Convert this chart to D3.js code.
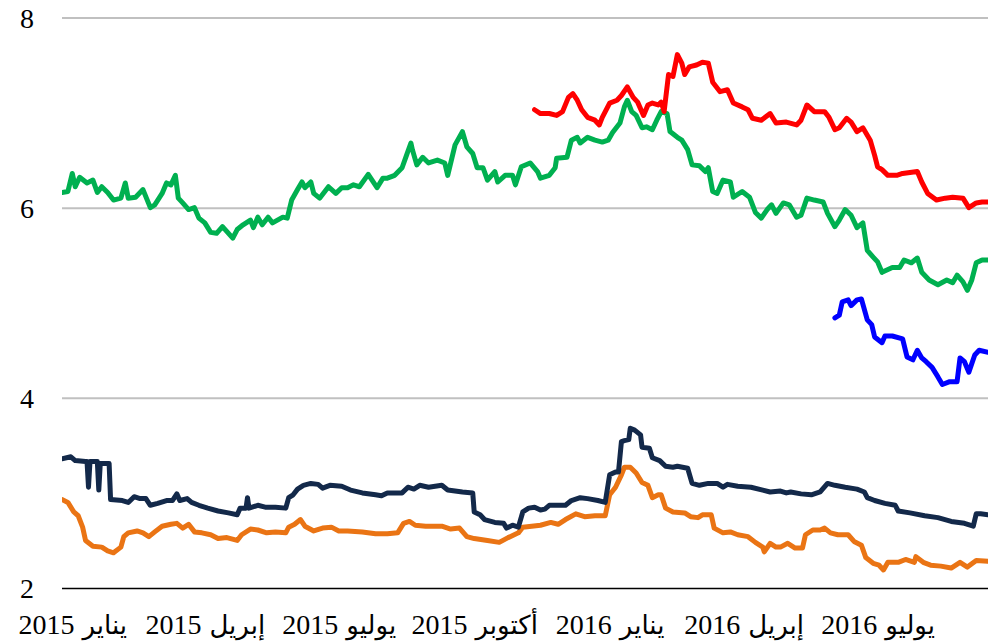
<!DOCTYPE html>
<html>
<head>
<meta charset="utf-8">
<script src="https://cdn.jsdelivr.net/npm/d3@7"></script>
<style>
  html, body { margin: 0; padding: 0; background: #ffffff; }
  svg { display: block; }
</style>
</head>
<body>
<svg id="chart" width="988" height="644"></svg>
<script>
// ---- Data ----
const yTicks = [2, 4, 6, 8];
const xTickDates = ["2015-01-01", "2015-04-01", "2015-07-01", "2015-10-01", "2016-01-01", "2016-04-01", "2016-07-01"];
const xTickMonths = ["يناير", "إبريل", "يوليو", "أكتوبر", "يناير", "إبريل", "يوليو"];
const xTickYears = ["2015", "2015", "2015", "2015", "2016", "2016", "2016"];

const greenSeries = [["2014-12-25",6.16],["2014-12-29",6.17],["2015-01-01",6.36],["2015-01-03",6.22],["2015-01-06",6.32],["2015-01-11",6.26],["2015-01-15",6.29],["2015-01-18",6.16],["2015-01-21",6.22],["2015-01-25",6.16],["2015-01-29",6.08],["2015-02-03",6.10],["2015-02-06",6.26],["2015-02-08",6.10],["2015-02-13",6.11],["2015-02-18",6.19],["2015-02-23",6.00],["2015-02-26",6.03],["2015-03-03",6.15],["2015-03-06",6.26],["2015-03-09",6.24],["2015-03-12",6.34],["2015-03-14",6.10],["2015-03-17",6.05],["2015-03-21",5.98],["2015-03-25",6.00],["2015-03-28",5.89],["2015-04-01",5.84],["2015-04-05",5.74],["2015-04-09",5.73],["2015-04-13",5.80],["2015-04-20",5.68],["2015-04-23",5.77],["2015-04-27",5.82],["2015-05-02",5.87],["2015-05-04",5.79],["2015-05-07",5.90],["2015-05-10",5.82],["2015-05-14",5.90],["2015-05-17",5.84],["2015-05-24",5.90],["2015-05-27",5.89],["2015-05-30",6.08],["2015-06-03",6.19],["2015-06-06",6.27],["2015-06-08",6.21],["2015-06-12",6.27],["2015-06-14",6.15],["2015-06-18",6.10],["2015-06-24",6.22],["2015-06-29",6.15],["2015-07-03",6.21],["2015-07-07",6.21],["2015-07-11",6.24],["2015-07-15",6.22],["2015-07-21",6.35],["2015-07-27",6.21],["2015-07-31",6.31],["2015-08-03",6.31],["2015-08-08",6.34],["2015-08-13",6.42],["2015-08-16",6.55],["2015-08-19",6.68],["2015-08-20",6.61],["2015-08-23",6.45],["2015-08-27",6.53],["2015-08-31",6.47],["2015-09-06",6.50],["2015-09-11",6.47],["2015-09-13",6.34],["2015-09-18",6.66],["2015-09-23",6.80],["2015-09-26",6.64],["2015-09-30",6.57],["2015-10-03",6.42],["2015-10-07",6.42],["2015-10-10",6.29],["2015-10-15",6.38],["2015-10-17",6.27],["2015-10-22",6.34],["2015-10-27",6.34],["2015-10-29",6.24],["2015-11-02",6.43],["2015-11-08",6.47],["2015-11-13",6.38],["2015-11-15",6.31],["2015-11-21",6.34],["2015-11-25",6.42],["2015-11-26",6.52],["2015-12-03",6.53],["2015-12-06",6.71],["2015-12-10",6.74],["2015-12-12",6.68],["2015-12-17",6.74],["2015-12-22",6.71],["2015-12-27",6.69],["2015-12-31",6.71],["2016-01-03",6.79],["2016-01-08",6.89],["2016-01-11",7.06],["2016-01-13",7.13],["2016-01-16",7.01],["2016-01-19",6.97],["2016-01-23",6.84],["2016-01-26",6.85],["2016-01-30",6.82],["2016-02-02",6.92],["2016-02-05",7.01],["2016-02-09",6.99],["2016-02-11",6.80],["2016-02-16",6.74],["2016-02-19",6.71],["2016-02-23",6.61],["2016-02-26",6.45],["2016-03-02",6.44],["2016-03-06",6.38],["2016-03-08",6.42],["2016-03-11",6.17],["2016-03-14",6.15],["2016-03-18",6.29],["2016-03-23",6.27],["2016-03-25",6.11],["2016-03-31",6.17],["2016-04-05",6.11],["2016-04-09",5.95],["2016-04-13",5.89],["2016-04-17",5.98],["2016-04-20",6.03],["2016-04-23",5.94],["2016-04-28",6.05],["2016-05-02",6.03],["2016-05-07",5.90],["2016-05-10",5.92],["2016-05-14",6.10],["2016-05-19",6.08],["2016-05-25",6.06],["2016-05-28",5.94],["2016-06-02",5.80],["2016-06-05",5.87],["2016-06-09",5.98],["2016-06-13",5.92],["2016-06-17",5.79],["2016-06-21",5.84],["2016-06-24",5.55],["2016-06-28",5.48],["2016-07-01",5.43],["2016-07-04",5.32],["2016-07-11",5.37],["2016-07-16",5.37],["2016-07-19",5.45],["2016-07-24",5.42],["2016-07-28",5.47],["2016-07-31",5.32],["2016-08-05",5.24],["2016-08-11",5.19],["2016-08-17",5.24],["2016-08-21",5.21],["2016-08-24",5.29],["2016-08-28",5.22],["2016-08-31",5.13],["2016-09-03",5.24],["2016-09-06",5.42],["2016-09-10",5.45],["2016-09-14",5.45]];

const redSeries = [["2015-11-11",7.03],["2015-11-15",6.99],["2015-11-21",6.99],["2015-11-26",6.97],["2015-11-30",7.01],["2015-12-04",7.16],["2015-12-07",7.20],["2015-12-10",7.13],["2015-12-13",7.03],["2015-12-17",6.95],["2015-12-22",6.92],["2015-12-25",6.87],["2015-12-27",6.95],["2016-01-01",7.10],["2016-01-06",7.13],["2016-01-09",7.18],["2016-01-13",7.27],["2016-01-17",7.16],["2016-01-20",7.11],["2016-01-24",6.97],["2016-01-27",7.08],["2016-01-30",7.10],["2016-02-03",7.08],["2016-02-05",7.11],["2016-02-07",7.01],["2016-02-10",7.40],["2016-02-13",7.38],["2016-02-16",7.61],["2016-02-19",7.52],["2016-02-21",7.40],["2016-02-24",7.48],["2016-02-29",7.50],["2016-03-04",7.53],["2016-03-08",7.52],["2016-03-11",7.32],["2016-03-16",7.22],["2016-03-21",7.24],["2016-03-25",7.10],["2016-03-31",7.06],["2016-04-04",7.03],["2016-04-07",6.94],["2016-04-13",6.92],["2016-04-19",6.99],["2016-04-23",6.89],["2016-04-30",6.90],["2016-05-07",6.87],["2016-05-10",6.92],["2016-05-14",7.08],["2016-05-19",7.01],["2016-05-26",7.01],["2016-05-29",6.95],["2016-06-02",6.82],["2016-06-05",6.84],["2016-06-10",6.94],["2016-06-13",6.90],["2016-06-17",6.80],["2016-06-21",6.84],["2016-06-26",6.71],["2016-06-29",6.55],["2016-07-01",6.43],["2016-07-04",6.40],["2016-07-08",6.34],["2016-07-14",6.34],["2016-07-18",6.36],["2016-07-28",6.38],["2016-07-31",6.27],["2016-08-04",6.15],["2016-08-10",6.08],["2016-08-16",6.10],["2016-08-21",6.11],["2016-08-28",6.10],["2016-09-01",6.00],["2016-09-06",6.05],["2016-09-10",6.06],["2016-09-14",6.06]];

const blueSeries = [["2016-06-02",4.84],["2016-06-05",4.87],["2016-06-07",5.01],["2016-06-11",5.03],["2016-06-13",4.97],["2016-06-17",5.03],["2016-06-20",5.04],["2016-06-24",4.82],["2016-06-27",4.77],["2016-06-29",4.64],["2016-07-04",4.58],["2016-07-06",4.65],["2016-07-11",4.65],["2016-07-18",4.62],["2016-07-21",4.43],["2016-07-25",4.40],["2016-07-28",4.50],["2016-07-31",4.42],["2016-08-03",4.38],["2016-08-07",4.32],["2016-08-11",4.22],["2016-08-14",4.14],["2016-08-19",4.17],["2016-08-24",4.17],["2016-08-26",4.42],["2016-08-29",4.38],["2016-09-01",4.27],["2016-09-05",4.45],["2016-09-08",4.50],["2016-09-14",4.48]];

const navySeries = [["2014-12-25",3.36],["2014-12-31",3.38],["2015-01-03",3.34],["2015-01-10",3.33],["2015-01-11",3.33],["2015-01-12",3.06],["2015-01-13",3.33],["2015-01-18",3.33],["2015-01-19",3.03],["2015-01-20",3.31],["2015-01-26",3.31],["2015-01-27",2.93],["2015-02-04",2.92],["2015-02-08",2.90],["2015-02-12",2.96],["2015-02-16",2.94],["2015-02-20",2.94],["2015-02-23",2.87],["2015-02-28",2.89],["2015-03-06",2.92],["2015-03-10",2.92],["2015-03-13",2.99],["2015-03-15",2.92],["2015-03-20",2.94],["2015-03-23",2.90],["2015-03-28",2.87],["2015-04-03",2.84],["2015-04-10",2.81],["2015-04-17",2.79],["2015-04-23",2.77],["2015-04-25",2.84],["2015-04-29",2.84],["2015-04-30",2.95],["2015-05-01",2.84],["2015-05-07",2.87],["2015-05-12",2.85],["2015-05-19",2.85],["2015-05-26",2.84],["2015-05-28",2.95],["2015-05-31",2.98],["2015-06-03",3.04],["2015-06-07",3.08],["2015-06-12",3.10],["2015-06-17",3.09],["2015-06-20",3.05],["2015-06-25",3.08],["2015-07-03",3.07],["2015-07-09",3.03],["2015-07-17",3.00],["2015-07-26",2.98],["2015-07-30",2.97],["2015-08-03",3.00],["2015-08-13",3.00],["2015-08-17",3.06],["2015-08-21",3.04],["2015-08-25",3.08],["2015-08-31",3.06],["2015-09-09",3.08],["2015-09-13",3.03],["2015-09-23",3.01],["2015-09-30",3.00],["2015-10-01",2.80],["2015-10-05",2.77],["2015-10-08",2.72],["2015-10-15",2.69],["2015-10-21",2.68],["2015-10-23",2.63],["2015-10-27",2.66],["2015-10-31",2.64],["2015-11-03",2.80],["2015-11-07",2.84],["2015-11-11",2.85],["2015-11-15",2.82],["2015-11-18",2.83],["2015-11-21",2.87],["2015-11-27",2.87],["2015-12-02",2.87],["2015-12-06",2.92],["2015-12-12",2.95],["2015-12-17",2.94],["2015-12-24",2.92],["2015-12-29",2.90],["2016-01-01",3.19],["2016-01-05",3.22],["2016-01-07",3.22],["2016-01-09",3.54],["2016-01-11",3.55],["2016-01-14",3.56],["2016-01-15",3.68],["2016-01-18",3.66],["2016-01-22",3.61],["2016-01-23",3.48],["2016-01-28",3.47],["2016-01-30",3.37],["2016-02-04",3.34],["2016-02-08",3.28],["2016-02-13",3.27],["2016-02-16",3.28],["2016-02-23",3.26],["2016-02-26",3.10],["2016-03-02",3.08],["2016-03-08",3.10],["2016-03-14",3.10],["2016-03-18",3.06],["2016-03-21",3.09],["2016-03-28",3.07],["2016-04-06",3.06],["2016-04-14",3.03],["2016-04-19",3.01],["2016-04-26",3.02],["2016-04-30",3.00],["2016-05-03",3.01],["2016-05-10",2.99],["2016-05-17",2.98],["2016-05-23",3.01],["2016-05-28",3.10],["2016-06-02",3.08],["2016-06-09",3.06],["2016-06-17",3.04],["2016-06-22",3.01],["2016-06-24",2.95],["2016-06-29",2.92],["2016-07-06",2.89],["2016-07-13",2.87],["2016-07-15",2.81],["2016-07-23",2.79],["2016-08-02",2.76],["2016-08-11",2.74],["2016-08-20",2.70],["2016-08-29",2.68],["2016-09-04",2.65],["2016-09-06",2.78],["2016-09-09",2.78],["2016-09-14",2.77]];

const orangeSeries = [["2014-12-25",2.93],["2014-12-29",2.90],["2015-01-02",2.80],["2015-01-05",2.76],["2015-01-08",2.64],["2015-01-10",2.50],["2015-01-15",2.44],["2015-01-21",2.43],["2015-01-25",2.39],["2015-01-29",2.37],["2015-02-03",2.43],["2015-02-05",2.54],["2015-02-08",2.58],["2015-02-14",2.60],["2015-02-18",2.58],["2015-02-22",2.54],["2015-02-26",2.59],["2015-03-03",2.65],["2015-03-09",2.67],["2015-03-13",2.68],["2015-03-17",2.63],["2015-03-21",2.67],["2015-03-25",2.59],["2015-03-30",2.58],["2015-04-05",2.56],["2015-04-10",2.52],["2015-04-16",2.53],["2015-04-23",2.50],["2015-04-26",2.56],["2015-05-02",2.62],["2015-05-07",2.61],["2015-05-13",2.58],["2015-05-19",2.59],["2015-05-26",2.58],["2015-05-28",2.64],["2015-06-01",2.67],["2015-06-05",2.72],["2015-06-08",2.65],["2015-06-14",2.60],["2015-06-20",2.63],["2015-06-26",2.64],["2015-07-01",2.60],["2015-07-07",2.60],["2015-07-17",2.59],["2015-07-26",2.57],["2015-08-03",2.57],["2015-08-10",2.58],["2015-08-14",2.68],["2015-08-18",2.70],["2015-08-22",2.66],["2015-08-29",2.65],["2015-09-09",2.65],["2015-09-15",2.62],["2015-09-21",2.63],["2015-09-26",2.54],["2015-10-01",2.52],["2015-10-10",2.50],["2015-10-18",2.48],["2015-10-24",2.53],["2015-10-31",2.58],["2015-11-03",2.64],["2015-11-09",2.65],["2015-11-15",2.66],["2015-11-22",2.69],["2015-11-27",2.67],["2015-12-02",2.72],["2015-12-09",2.78],["2015-12-15",2.75],["2015-12-22",2.76],["2015-12-29",2.76],["2016-01-01",2.98],["2016-01-05",3.06],["2016-01-09",3.19],["2016-01-11",3.27],["2016-01-15",3.27],["2016-01-19",3.21],["2016-01-23",3.11],["2016-01-27",3.08],["2016-01-30",2.95],["2016-02-03",2.98],["2016-02-05",2.98],["2016-02-08",2.84],["2016-02-13",2.80],["2016-02-21",2.79],["2016-02-25",2.75],["2016-03-01",2.74],["2016-03-04",2.77],["2016-03-10",2.77],["2016-03-12",2.63],["2016-03-18",2.58],["2016-03-23",2.59],["2016-03-28",2.56],["2016-04-04",2.54],["2016-04-09",2.48],["2016-04-14",2.43],["2016-04-15",2.38],["2016-04-19",2.47],["2016-04-23",2.43],["2016-04-26",2.43],["2016-05-01",2.47],["2016-05-06",2.42],["2016-05-11",2.42],["2016-05-13",2.56],["2016-05-18",2.61],["2016-05-23",2.61],["2016-05-26",2.63],["2016-05-30",2.58],["2016-06-04",2.56],["2016-06-11",2.56],["2016-06-15",2.49],["2016-06-20",2.45],["2016-06-23",2.32],["2016-06-28",2.26],["2016-07-02",2.24],["2016-07-05",2.19],["2016-07-08",2.27],["2016-07-15",2.27],["2016-07-20",2.30],["2016-07-26",2.27],["2016-07-27",2.33],["2016-08-01",2.27],["2016-08-06",2.24],["2016-08-13",2.23],["2016-08-20",2.21],["2016-08-26",2.27],["2016-08-31",2.22],["2016-09-06",2.29],["2016-09-14",2.28]];

const seriesList = [
  { name: "orange", data: orangeSeries, color: "#ea7414" },
  { name: "navy",   data: navySeries,   color: "#13294a" },
  { name: "green",  data: greenSeries,  color: "#00b050" },
  { name: "red",    data: redSeries,    color: "#ff0000" },
  { name: "blue",   data: blueSeries,   color: "#0000ff" }
];

// ---- Chart ----
(function () {
  const parse = d3.timeParse("%Y-%m-%d");
  const svg = d3.select("#chart");
  const plotLeft = 62, plotRight = 988, plotTop = 17.5, plotBottom = 588;
  const serif = "'Liberation Serif', 'Times New Roman', serif";
  const arabic = "'DejaVu Sans', sans-serif";
  const fontSize = 28;

  const x = d3.scaleTime()
    .domain([parse("2014-12-25"), parse("2016-09-14")])
    .range([plotLeft, plotRight]);
  const y = d3.scaleLinear().domain([2, 8]).range([plotBottom, plotTop]);

  // Gridlines + y labels
  const yAxis = d3.axisLeft(y)
    .tickValues(yTicks)
    .tickFormat(d3.format("d"))
    .tickSize(-(plotRight - plotLeft))
    .tickPadding(28);
  const gy = svg.append("g").attr("transform", `translate(${plotLeft},0)`).call(yAxis);
  gy.select(".domain").remove();
  gy.selectAll(".tick line")
    .attr("stroke", d => d === 2 ? "#000000" : "#c0c0c0")
    .attr("stroke-width", d => d === 2 ? 1.5 : 2);
  gy.selectAll(".tick text")
    .attr("font-size", fontSize)
    .attr("font-family", serif)
    .attr("dy", "0.35em")
    .attr("fill", "#000");

  // X labels: year (serif digits) on the left, Arabic month word on the right
  const xAxis = d3.axisBottom(x)
    .tickValues(xTickDates.map(parse))
    .tickFormat("")
    .tickSize(0);
  const gx = svg.append("g").attr("transform", `translate(0,${plotBottom})`).call(xAxis);
  gx.select(".domain").remove();
  gx.selectAll(".tick text").remove();
  const baseline = 46;
  const gap = 8;
  gx.selectAll(".tick").each(function (d, i) {
    const tick = d3.select(this);
    const yr = tick.append("text")
      .attr("y", baseline)
      .attr("font-size", fontSize)
      .attr("font-family", serif)
      .attr("fill", "#000")
      .attr("text-anchor", "start")
      .text(xTickYears[i]);
    const mo = tick.append("text")
      .attr("y", baseline)
      .attr("font-size", 26)
      .attr("font-family", arabic)
      .attr("fill", "#000")
      .attr("text-anchor", "start")
      .text(xTickMonths[i]);
    const wy = yr.node().getComputedTextLength();
    const wm = mo.node().getComputedTextLength();
    const total = wy + gap + wm;
    yr.attr("x", -total / 2);
    mo.attr("x", -total / 2 + wy + gap);
  });

  // Lines
  svg.append("clipPath").attr("id", "plotclip")
    .append("rect").attr("x", plotLeft).attr("y", 0)
    .attr("width", plotRight - plotLeft + 2).attr("height", plotBottom + 10);

  const line = d3.line()
    .x(d => x(parse(d[0])))
    .y(d => y(d[1]));

  svg.append("g").attr("clip-path", "url(#plotclip)")
    .selectAll("path")
    .data(seriesList)
    .join("path")
    .attr("d", s => line(s.data))
    .attr("fill", "none")
    .attr("stroke", s => s.color)
    .attr("stroke-width", 5)
    .attr("stroke-linejoin", "round")
    .attr("stroke-linecap", "round");
})();
</script>
</body>
</html>
